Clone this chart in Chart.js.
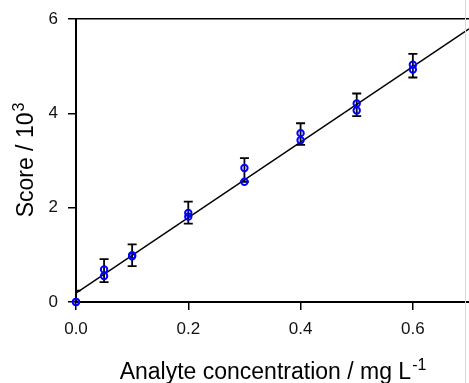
<!DOCTYPE html>
<html>
<head>
<meta charset="utf-8">
<script src="https://cdn.jsdelivr.net/npm/chart.js@4.4.1/dist/chart.umd.min.js"></script>
<style>
  html, body { margin: 0; padding: 0; background: #fff; }
  #wrap { width: 469px; height: 383px; position: relative; }
</style>
</head>
<body>
<div id="wrap"><canvas id="calibChart"></canvas></div>
<script>
// concentrations (mg/L)
const conc = [0, 0.05, 0.1, 0.2, 0.3, 0.4, 0.5, 0.6];
// two replicate scores (x10^3)
const rep1 = [0, 0.69, 0.99, 1.89, 2.84, 3.58, 4.21, 5.03];
const rep2 = [0, 0.55, 0.97, 1.81, 2.55, 3.43, 4.06, 4.93];
// error bar ends
const errLow = [-0.24, 0.42, 0.76, 1.66, 2.55, 3.33, 3.94, 4.76];
const errHigh = [0.24, 0.91, 1.22, 2.13, 3.05, 3.79, 4.42, 5.26];
// fitted line end points
const fitX = [0, 0.7];
const fitY = [0.19, 5.79];
// tick labels
const xTicks = [0, 0.2, 0.4, 0.6];
const yTicks = [0, 2, 4, 6];

const FONT = "'Liberation Sans', Arial, sans-serif";

let ctx = document.getElementById("calibChart").getContext("2d");

const errorBars = {
  id: "errorBars",
  beforeDatasetsDraw: (chart) => {
    const c = chart.ctx;
    const xs = chart.scales.x;
    const ys = chart.scales.y;
    const area = chart.chartArea;
    c.save();
    c.beginPath();
    c.rect(area.left, area.top - 2, area.right - area.left, area.bottom - area.top + 2);
    c.clip();
    c.strokeStyle = "#000";
    c.lineWidth = 1.8;
    conc.forEach((v, i) => {
      const x = xs.getPixelForValue(v);
      const y1 = ys.getPixelForValue(errLow[i]);
      const y2 = ys.getPixelForValue(errHigh[i]);
      c.beginPath();
      c.moveTo(x, y1);
      c.lineTo(x, y2);
      c.moveTo(x - 4.5, y1);
      c.lineTo(x + 4.5, y1);
      c.moveTo(x - 4.5, y2);
      c.lineTo(x + 4.5, y2);
      c.stroke();
    });
    c.restore();
  },
};

// axis titles with superscripts
const axisTitles = {
  id: "axisTitles",
  afterDraw: (chart) => {
    const c = chart.ctx;
    const area = chart.chartArea;
    c.save();
    c.fillStyle = "#000";
    c.textBaseline = "alphabetic";
    c.textAlign = "left";

    // x title
    const main = "Analyte concentration / mg L";
    const sup = "-1";
    c.font = "23px " + FONT;
    const w1 = c.measureText(main).width;
    c.font = "16px " + FONT;
    const w2 = c.measureText(sup).width;
    let x0 = (area.left + area.right) / 2 - (w1 + w2) / 2;
    c.font = "23px " + FONT;
    c.fillText(main, x0, 379);
    c.font = "16px " + FONT;
    c.fillText(sup, x0 + w1 + 1, 370);

    // y title
    const ymain = "Score / 10";
    const ysup = "3";
    c.font = "23px " + FONT;
    const h1 = c.measureText(ymain).width;
    c.font = "16px " + FONT;
    const h2 = c.measureText(ysup).width;
    c.translate(33, (area.top + area.bottom) / 2);
    c.rotate(-Math.PI / 2);
    let s0 = -(h1 + h2) / 2;
    c.font = "23px " + FONT;
    c.fillText(ymain, s0, 0);
    c.font = "16px " + FONT;
    c.fillText(ysup, s0 + h1 + 1, -9);
    c.restore();

    // light frame edge on the right
    c.save();
    c.strokeStyle = "#d8d8d8";
    c.lineWidth = 1;
    c.beginPath();
    c.moveTo(465.5, 0);
    c.lineTo(465.5, chart.height);
    c.stroke();
    c.restore();
  },
};

const pointStyle = {
  showLine: false,
  pointStyle: "circle",
  pointRadius: 3.2,
  pointHoverRadius: 3.2,
  pointBorderWidth: 2,
  pointBorderColor: "#0000ff",
  pointBackgroundColor: "rgba(0,0,0,0)",
  clip: false,
};

let calibChart = new Chart(ctx, {
  type: "scatter",
  data: {
    datasets: [
      {
        label: "Replicate 1",
        data: conc.map((v, i) => ({ x: v, y: rep1[i] })),
        ...pointStyle,
      },
      {
        label: "Replicate 2",
        data: conc.map((v, i) => ({ x: v, y: rep2[i] })),
        ...pointStyle,
      },
      {
        label: "Fit",
        type: "line",
        data: fitX.map((v, i) => ({ x: v, y: fitY[i] })),
        borderColor: "#000",
        borderWidth: 1.5,
        pointRadius: 0,
        fill: false,
      },
    ],
  },
  options: {
    responsive: true,
    maintainAspectRatio: false,
    animation: false,
    layout: {
      autoPadding: false,
      padding: { left: 0, right: 0, top: 19, bottom: 0 },
    },
    scales: {
      x: {
        type: "linear",
        min: 0,
        max: 0.7,
        afterBuildTicks: (scale) => {
          scale.ticks = xTicks.map((v) => ({ value: v }));
        },
        afterFit: (scale) => {
          scale.height = 81;
        },
        border: { color: "#000", width: 2 },
        grid: {
          drawOnChartArea: false,
          drawTicks: true,
          tickLength: 8,
          tickColor: "#000",
          color: "#000",
          lineWidth: 1.5,
        },
        ticks: {
          color: "#111",
          padding: 10,
          maxRotation: 0,
          font: { family: FONT, size: 17, lineHeight: 1.05 },
          callback: (v) => v.toFixed(1),
        },
      },
      y: {
        min: 0,
        max: 6,
        afterBuildTicks: (scale) => {
          scale.ticks = yTicks.map((v) => ({ value: v }));
        },
        afterFit: (scale) => {
          scale.width = 76;
        },
        border: { color: "#000", width: 2 },
        grid: {
          drawOnChartArea: true,
          tickLength: 8,
          tickColor: "#000",
          lineWidth: 1.5,
          color: (c) => (c.tick && c.tick.value === 6 ? "#000" : "rgba(0,0,0,0)"),
        },
        ticks: {
          color: "#111",
          padding: 10,
          font: { family: FONT, size: 17, lineHeight: 1.05 },
          callback: (v) => String(v),
        },
      },
    },
    plugins: {
      legend: { display: false },
      tooltip: { enabled: false },
    },
  },
  plugins: [errorBars, axisTitles],
});
</script>
</body>
</html>
